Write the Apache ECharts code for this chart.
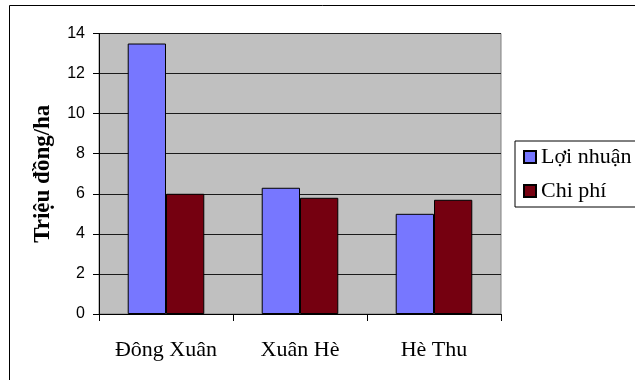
<!DOCTYPE html>
<html>
<head>
<meta charset="utf-8">
<script src="https://cdn.jsdelivr.net/npm/echarts@6/dist/echarts.min.js"></script>
<style>
  html, body { margin: 0; padding: 0; background: #fff; }
  #chart { width: 635px; height: 380px; }
</style>
</head>
<body>
<div id="chart"></div>
<script>
// Seasons and values (million VND per hectare)
const categories = ['Đông Xuân', 'Xuân Hè', 'Hè Thu'];
const loiNhuan = [13.5, 6.3, 5.0];
const chiPhi = [6.0, 5.8, 5.7];
const seriesNames = ['Lợi nhuận', 'Chi phí'];

const serif = '"Liberation Serif", "Times New Roman", serif';
const sans = '"Liberation Sans", Arial, sans-serif';

const chart = echarts.init(document.getElementById('chart'));
chart.setOption({
  animation: false,
  backgroundColor: '#fff',
  graphic: [{
    type: 'rect',
    shape: { x: 9.5, y: 5.5, width: 700, height: 500 },
    style: { fill: 'none', stroke: '#000', lineWidth: 1 },
    silent: true,
    z: -1
  }],
  grid: {
    left: 99, top: 33.5, right: 134, bottom: 66,
    show: true,
    backgroundColor: '#C0C0C0',
    borderColor: '#808080',
    borderWidth: 1
  },
  legend: {
    orient: 'vertical',
    left: 515, top: 141,
    padding: [4, 40, 4, 8],
    itemGap: 10,
    itemWidth: 12, itemHeight: 12,
    icon: 'rect',
    borderColor: '#000', borderWidth: 1,
    backgroundColor: '#fff',
    textStyle: { fontFamily: serif, fontSize: 22, color: '#000', lineHeight: 24 },
    data: seriesNames
  },
  xAxis: {
    type: 'category',
    data: categories,
    axisLine: { lineStyle: { color: '#000', width: 1 } },
    axisTick: { show: true, length: 7, lineStyle: { color: '#000' } },
    axisLabel: { fontFamily: serif, fontSize: 22, color: '#000', margin: 25 }
  },
  yAxis: {
    type: 'value',
    min: 0, max: 14, interval: 2,
    name: 'Triệu đồng/ha',
    nameLocation: 'middle',
    nameGap: 44,
    nameTextStyle: { fontFamily: serif, fontSize: 23, fontWeight: 'bold', color: '#000' },
    axisLine: { show: true, lineStyle: { color: '#000', width: 1 } },
    axisTick: { show: true, length: 6, lineStyle: { color: '#000' } },
    axisLabel: { fontFamily: sans, fontSize: 16, color: '#000', margin: 14 },
    splitLine: { lineStyle: { color: '#1a1a1a', width: 1 } }
  },
  series: [{
    name: seriesNames[0],
    type: 'bar',
    data: loiNhuan,
    barGap: '0%',
    barCategoryGap: '42.86%',
    itemStyle: { color: '#7777FF', borderColor: '#000', borderWidth: 1 }
  }, {
    name: seriesNames[1],
    type: 'bar',
    data: chiPhi,
    barGap: '0%',
    barCategoryGap: '42.86%',
    itemStyle: { color: '#750010', borderColor: '#000', borderWidth: 1 }
  }]
});
</script>
</body>
</html>
